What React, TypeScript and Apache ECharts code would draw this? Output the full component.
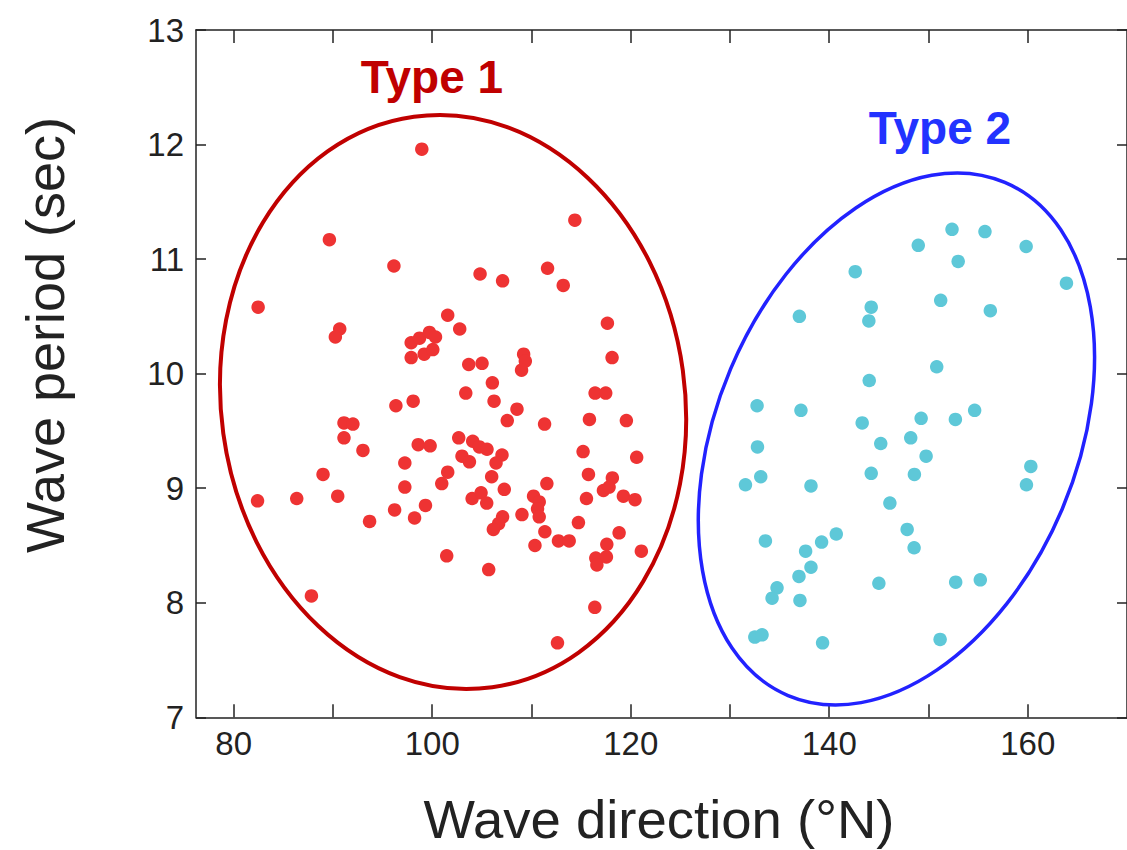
import React, { useEffect, useRef } from "react";
import * as echarts from "echarts";

// Type 1 (red) points: [wave direction °N, wave period sec]
const type1Points: number[][] = [
  [98.95, 11.96], [89.64, 11.17], [96.14, 10.94], [82.46, 10.58], [90.68, 10.39], [90.24, 10.32],
  [97.88, 10.27], [98.72, 10.31], [99.72, 10.36], [100.33, 10.32], [97.88, 10.14], [99.19, 10.17], [100.06, 10.21],
  [96.34, 9.72], [98.08, 9.76], [91.11, 9.57], [92.01, 9.56], [91.11, 9.44], [93.02, 9.33], [98.59, 9.38],
  [99.79, 9.37], [97.24, 9.22], [89.0, 9.12], [97.24, 9.01], [82.4, 8.89], [86.35, 8.91], [90.48, 8.93],
  [96.21, 8.81], [99.32, 8.85], [98.22, 8.74], [93.69, 8.71], [87.83, 8.06],
  [114.37, 11.34], [104.82, 10.87], [107.09, 10.81], [111.62, 10.92], [113.2, 10.77], [101.56, 10.51],
  [102.77, 10.39], [117.65, 10.44], [118.12, 10.14], [103.68, 10.08], [105.02, 10.09], [109.21, 10.17],
  [109.38, 10.11], [109.0, 10.03], [106.06, 9.92], [103.38, 9.83], [116.41, 9.83], [117.48, 9.83],
  [106.23, 9.76], [108.54, 9.69], [107.56, 9.59], [111.32, 9.56], [115.84, 9.6], [119.56, 9.59],
  [115.2, 9.32], [120.6, 9.27], [102.67, 9.44], [104.08, 9.41], [104.75, 9.36], [105.52, 9.34],
  [103.0, 9.28], [103.75, 9.23], [107.03, 9.29], [106.43, 9.22], [101.56, 9.14], [100.96, 9.04],
  [105.99, 9.1], [107.26, 8.99], [104.02, 8.91], [104.92, 8.96], [105.49, 8.87], [107.09, 8.75],
  [106.69, 8.69], [106.16, 8.64], [109.04, 8.77], [111.55, 9.04], [110.21, 8.93], [110.78, 8.88],
  [110.61, 8.82], [110.78, 8.75], [111.35, 8.62], [110.35, 8.5], [112.72, 8.54], [113.8, 8.54],
  [114.73, 8.7], [115.74, 9.12], [115.54, 8.91], [117.25, 8.98], [118.15, 9.09], [117.82, 9.01],
  [119.26, 8.93], [120.43, 8.9], [118.83, 8.61], [117.59, 8.51], [116.48, 8.39], [117.55, 8.4],
  [116.59, 8.33], [121.07, 8.45], [101.46, 8.41], [105.69, 8.29], [112.62, 7.65], [116.38, 7.96],
];

// Type 2 (cyan) points
const type2Points: number[][] = [
  [148.97, 11.12], [142.62, 10.89], [144.23, 10.58], [143.99, 10.46], [136.99, 10.5], [144.03, 9.94],
  [132.73, 9.72], [137.15, 9.68], [143.32, 9.57], [145.19, 9.39], [148.21, 9.44], [132.77, 9.36],
  [149.26, 9.61], [133.1, 9.1], [131.56, 9.03], [138.16, 9.02], [144.23, 9.13], [148.58, 9.12],
  [146.11, 8.87], [133.57, 8.54], [140.71, 8.6], [139.23, 8.53], [137.62, 8.45], [138.16, 8.31],
  [136.95, 8.23], [134.74, 8.13], [134.24, 8.04], [137.05, 8.02], [147.85, 8.64], [148.55, 8.48],
  [145.0, 8.17], [132.5, 7.7], [133.23, 7.72], [139.33, 7.65],
  [152.37, 11.26], [155.69, 11.24], [159.84, 11.11], [152.99, 10.98], [163.9, 10.79], [151.23, 10.64],
  [156.23, 10.55], [150.83, 10.06], [152.71, 9.6], [154.65, 9.68], [149.76, 9.28], [160.31, 9.19],
  [159.87, 9.03], [152.74, 8.18], [155.22, 8.2], [151.17, 7.68],
];

// Enclosing ellipses: [centerX, centerY, semiAxisX, semiAxisY, rotationDeg]
const type1Ellipse: number[] = [102.1, 9.753, 23.36, 2.513, 7.8];
const type2Ellipse: number[] = [146.77, 9.43, 18.14, 2.432, -22.9];

const xTickValues: number[] = [80, 90, 100, 110, 120, 130, 140, 150, 160];
const xLabelValues: number[] = [80, 100, 120, 140, 160];

const FONT = "'Liberation Sans', Arial, Helvetica, sans-serif";
const AXIS_COLOR = "#222222";

export default function App() {
  const ref = useRef<HTMLDivElement>(null);

  useEffect(() => {
    document.body.style.margin = "0";
    const chart = echarts.init(ref.current!, null, { renderer: "svg" });

    const ellipseRender = (color: string, width: number) => (params: any, api: any) => {
      const c = api.coord([api.value(0), api.value(1)]);
      const s = api.size([api.value(2), api.value(3)]);
      return {
        type: "ellipse",
        x: c[0],
        y: c[1],
        rotation: (api.value(4) * Math.PI) / 180,
        shape: { cx: 0, cy: 0, rx: s[0], ry: s[1] },
        style: { fill: "none", stroke: color, lineWidth: width },
        silent: true,
      };
    };

    const axisLine = { show: true, lineStyle: { color: AXIS_COLOR, width: 1.5 } };

    chart.setOption({
      animation: false,
      backgroundColor: "#ffffff",
      grid: { left: 196, top: 30, right: -1.5, bottom: 132.7 },
      xAxis: [
        {
          type: "value",
          position: "bottom",
          min: 76.2,
          max: 170,
          axisLine,
          axisTick: { show: true, inside: true, length: 13, customValues: xTickValues, lineStyle: { color: AXIS_COLOR, width: 1.5 } },
          axisLabel: { show: true, customValues: xLabelValues, color: AXIS_COLOR, fontSize: 33, fontFamily: FONT, margin: 10 },
          splitLine: { show: false },
        },
        {
          type: "value",
          position: "top",
          min: 76.2,
          max: 170,
          axisLine,
          axisTick: { show: true, inside: true, length: 13, customValues: xTickValues, lineStyle: { color: AXIS_COLOR, width: 1.5 } },
          axisLabel: { show: false },
          splitLine: { show: false },
        },
      ],
      yAxis: [
        {
          type: "value",
          position: "left",
          min: 7,
          max: 13,
          interval: 1,
          axisLine,
          axisTick: { show: true, inside: true, length: 10, lineStyle: { color: AXIS_COLOR, width: 1.5 } },
          axisLabel: { color: AXIS_COLOR, fontSize: 33, fontFamily: FONT, margin: 12 },
          splitLine: { show: false },
        },
        {
          type: "value",
          position: "right",
          min: 7,
          max: 13,
          interval: 1,
          axisLine,
          axisTick: { show: true, inside: true, length: 10, lineStyle: { color: AXIS_COLOR, width: 1.5 } },
          axisLabel: { show: false },
          splitLine: { show: false },
        },
      ],
      series: [
        {
          type: "scatter",
          name: "Type 1",
          data: type1Points,
          symbolSize: 13.5,
          itemStyle: { color: "#ee3333", opacity: 1 },
          silent: true,
        },
        {
          type: "scatter",
          name: "Type 2",
          data: type2Points,
          symbolSize: 13.5,
          itemStyle: { color: "#5ec8d8", opacity: 1 },
          silent: true,
        },
        {
          type: "custom",
          name: "Type 1 envelope",
          renderItem: ellipseRender("#c00000", 4),
          data: [type1Ellipse],
          clip: false,
          silent: true,
        },
        {
          type: "custom",
          name: "Type 2 envelope",
          renderItem: ellipseRender("#2222ff", 3.5),
          data: [type2Ellipse],
          clip: false,
          silent: true,
        },
      ],
      graphic: [
        {
          type: "text",
          x: 432,
          y: 77,
          style: { text: "Type 1", fill: "#c00000", font: `bold 46px ${FONT}`, textAlign: "center", textVerticalAlign: "middle" },
        },
        {
          type: "text",
          x: 940,
          y: 128,
          style: { text: "Type 2", fill: "#2233ff", font: `bold 46px ${FONT}`, textAlign: "center", textVerticalAlign: "middle" },
        },
        {
          type: "text",
          x: 659,
          y: 819,
          style: { text: "Wave direction (°N)", fill: AXIS_COLOR, font: `54.5px ${FONT}`, textAlign: "center", textVerticalAlign: "middle" },
        },
        {
          type: "text",
          x: 45,
          y: 335,
          rotation: Math.PI / 2,
          style: { text: "Wave period (sec)", fill: AXIS_COLOR, font: `54px ${FONT}`, textAlign: "center", textVerticalAlign: "middle" },
        },
      ],
    });

    return () => chart.dispose();
  }, []);

  return <div ref={ref} style={{ width: 1127, height: 850 }} />;
}
